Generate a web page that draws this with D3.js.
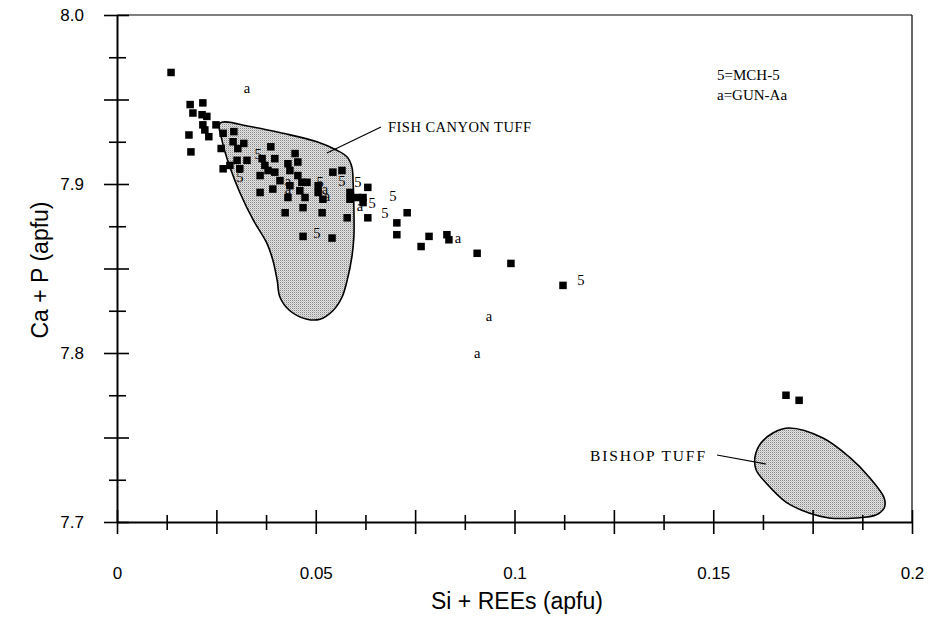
<!DOCTYPE html>
<html><head><meta charset="utf-8">
<script src="https://cdn.jsdelivr.net/npm/d3@7"></script>
<style>
html,body{margin:0;padding:0;background:#fff;}
svg{display:block;}
</style></head>
<body>
<svg id="chart" width="939" height="619"></svg>
<script>
// ---- data ----
const xTickLabels = [0, 0.05, 0.1, 0.15, 0.2];
const yTickLabels = [7.7, 7.8, 7.9, 8.0];
// analyses (squares): [Si+REEs, Ca+P]
const pointsX = [0.0136,0.0184,0.0216,0.0191,0.0214,0.0226,0.0216,0.0249,0.0221,0.0231,0.0181,0.0267,0.0294,0.0186,0.0262,0.0292,0.0304,0.0319,0.0387,0.0397,0.0365,0.0372,0.0380,0.0267,0.0284,0.0302,0.0327,0.0309,0.0360,0.0397,0.0360,0.0392,
  0.0448,0.0430,0.0455,0.0435,0.0543,0.0566,0.0455,0.0410,0.0435,0.0465,0.0478,0.0506,0.0460,0.0430,0.0473,0.0506,0.0518,0.0586,0.0586,0.0604,0.0619,0.0631,0.0619,0.0423,0.0468,0.0516,0.0579,0.0631,0.0468,0.0541,0.0704,0.0704,
  0.0730,0.0785,0.0765,0.0830,0.0835,0.0906,0.0991,0.1122,0.1683,0.1716];
const pointsY = [7.966,7.947,7.948,7.942,7.941,7.940,7.935,7.935,7.932,7.928,7.929,7.930,7.931,7.919,7.921,7.925,7.921,7.924,7.922,7.915,7.915,7.911,7.908,7.909,7.911,7.914,7.914,7.909,7.905,7.907,7.895,7.897,
  7.918,7.912,7.913,7.908,7.907,7.908,7.905,7.902,7.899,7.901,7.901,7.899,7.896,7.892,7.892,7.895,7.891,7.895,7.891,7.892,7.892,7.898,7.889,7.883,7.886,7.883,7.880,7.880,7.869,7.868,7.877,7.870,
  7.883,7.869,7.863,7.870,7.867,7.859,7.853,7.840,7.775,7.772];
// sample symbols "5" = MCH-5
const mchX = [0.0355,0.0309,0.0511,0.0566,0.0606,0.0642,0.0674,0.0694,0.0503,0.1167];
const mchY = [7.918,7.904,7.901,7.902,7.901,7.889,7.883,7.893,7.871,7.843];
// sample symbols "a" = GUN-Aa
const gunX = [0.0327,0.0430,0.0430,0.0523,0.0528,0.0611,0.0858,0.0936,0.0906];
const gunY = [7.956,7.901,7.896,7.896,7.892,7.886,7.867,7.821,7.799];
// fields
const fishX = [0.0259,0.0335,0.0418,0.0503,0.0553,0.0579,0.0591,0.0594,0.0596,0.0596,0.0591,0.0579,0.0566,0.0543,0.0511,0.0478,0.0435,0.0410,0.0403,0.0392,0.0377,0.0342,0.0309,0.0284,0.0264];
const fishY = [7.936,7.934,7.930,7.925,7.920,7.916,7.910,7.901,7.885,7.869,7.857,7.843,7.833,7.825,7.820,7.820,7.825,7.833,7.843,7.855,7.865,7.879,7.895,7.910,7.926];
const bishX = [0.1691,0.1776,0.1842,0.1892,0.1930,0.1930,0.1909,0.1859,0.1791,0.1741,0.1683,0.1633,0.1608,0.1605,0.1620,0.1650];
const bishY = [7.7556,7.7497,7.7385,7.7266,7.7142,7.7083,7.7041,7.7024,7.7024,7.7053,7.7118,7.7231,7.7308,7.7385,7.7467,7.7527];
const legendLines = ["5=MCH-5", "a=GUN-Aa"];
const xTitle = "Si + REEs (apfu)";
const yTitle = "Ca + P (apfu)";

// ---- layout ----
const svg = d3.select("#chart");
const L = 117, R = 912, T = 15, B = 522;
const x = d3.scaleLinear().domain([0, 0.2]).range([L, R]);
const y = d3.scaleLinear().domain([7.7, 8.0]).range([B, T]);

// pattern for shaded fields
const defs = svg.append("defs");
const pat = defs.append("pattern").attr("id","stip").attr("width",2).attr("height",2).attr("patternUnits","userSpaceOnUse");
pat.append("rect").attr("width",2).attr("height",2).attr("fill","#e2e2e2");
pat.append("rect").attr("width",1).attr("height",1).attr("fill","#8a8a8a");
pat.append("rect").attr("x",1).attr("y",1).attr("width",1).attr("height",1).attr("fill","#c4c4c4");

const line = d3.line().x(d => x(d[0])).y(d => y(d[1])).curve(d3.curveCatmullRomClosed.alpha(0.5));
const fish = fishX.map((v,i) => [v, fishY[i]]);
const bish = bishX.map((v,i) => [v, bishY[i]]);
svg.append("path").attr("d", line(fish)).attr("fill","url(#stip)").attr("stroke","#000").attr("stroke-width",1.6);
svg.append("path").attr("d", line(bish)).attr("fill","url(#stip)").attr("stroke","#000").attr("stroke-width",1.6);

// frame
svg.append("line").attr("x1",L).attr("x2",R).attr("y1",T).attr("y2",T).attr("stroke","#000").attr("stroke-width",1.2);
svg.append("line").attr("x1",R).attr("x2",R).attr("y1",T).attr("y2",B).attr("stroke","#000").attr("stroke-width",1.2);

// axes with crossing ticks
const xTicks = d3.range(0, 17).map(i => i * 0.0125);
const gx = svg.append("g").attr("transform", `translate(0,${B})`)
  .call(d3.axisBottom(x).tickValues(xTicks).tickFormat("").tickSizeOuter(0));
gx.selectAll(".tick line").attr("y1", (d,i) => i % 2 === 0 ? -12 : -7).attr("y2", (d,i) => i % 2 === 0 ? 12 : 8).attr("stroke-width",1.6);
gx.select(".domain").attr("stroke-width",2);

const yTicks = d3.range(0, 13).map(i => 7.7 + i * 0.025);
const gy = svg.append("g").attr("transform", `translate(${L},0)`)
  .call(d3.axisLeft(y).tickValues(yTicks).tickFormat("").tickSizeOuter(0));
gy.selectAll(".tick line").attr("x1", (d,i) => i % 2 === 0 ? -13 : -8).attr("x2", (d,i) => i % 2 === 0 ? 12 : 9).attr("stroke-width",1.6);
gy.select(".domain").attr("stroke-width",2);

// tick labels
const gxl = svg.append("g").attr("transform", `translate(0,${B})`)
  .call(d3.axisBottom(x).tickValues(xTickLabels).tickFormat(d => String(d)).tickSize(0).tickPadding(45));
gxl.select(".domain").remove();
gxl.selectAll("text").attr("font-family","Liberation Sans, Arial, sans-serif").attr("font-size",17).attr("fill","#000");

const gyl = svg.append("g").attr("transform", `translate(${L},0)`)
  .call(d3.axisLeft(y).tickValues(yTickLabels).tickFormat(d3.format(".1f")).tickSize(0).tickPadding(33));
gyl.select(".domain").remove();
gyl.selectAll("text").attr("font-family","Liberation Sans, Arial, sans-serif").attr("font-size",17).attr("fill","#000");

// axis titles
svg.append("text").attr("x", 517).attr("y", 609).attr("text-anchor","middle")
  .attr("font-family","Liberation Sans, Arial, sans-serif").attr("font-size",23).text(xTitle);
svg.append("text").attr("transform","translate(48,270) rotate(-90)").attr("text-anchor","middle")
  .attr("font-family","Liberation Sans, Arial, sans-serif").attr("font-size",23).text(yTitle);

// points
const s = 7.5;
svg.append("g").selectAll("rect").data(pointsX.map((v,i)=>[v,pointsY[i]])).join("rect")
  .attr("x", d => x(d[0]) - s/2).attr("y", d => y(d[1]) - s/2).attr("width", s).attr("height", s).attr("fill","#000");

const serif = "Liberation Serif, Times New Roman, serif";
svg.append("g").selectAll("text").data(mchX.map((v,i)=>[v,mchY[i]])).join("text")
  .attr("x", d => x(d[0])).attr("y", d => y(d[1]) + 5).attr("text-anchor","middle")
  .attr("font-family", serif).attr("font-size",14.5).text("5");
svg.append("g").selectAll("text").data(gunX.map((v,i)=>[v,gunY[i]])).join("text")
  .attr("x", d => x(d[0])).attr("y", d => y(d[1]) + 3.5).attr("text-anchor","middle")
  .attr("font-family", serif).attr("font-size",14.5).text("a");

// field labels and leaders
svg.append("text").attr("x", 388).attr("y", 132).attr("font-family", serif).attr("font-size",14.5)
  .attr("textLength",143).attr("lengthAdjust","spacing").text("FISH CANYON TUFF");
svg.append("line").attr("x1", 327).attr("y1", 153).attr("x2", 381).attr("y2", 127).attr("stroke","#000").attr("stroke-width",1.2);
svg.append("text").attr("x", 590).attr("y", 461).attr("font-family", serif).attr("font-size",15.5)
  .attr("textLength",115).attr("lengthAdjust","spacing").text("BISHOP TUFF");
svg.append("line").attr("x1", 717).attr("y1", 455).attr("x2", 766).attr("y2", 464).attr("stroke","#000").attr("stroke-width",1.2);

// legend
svg.append("g").selectAll("text").data(legendLines).join("text")
  .attr("x", 717).attr("y", (d,i) => 80 + i * 20).attr("font-family", serif).attr("font-size",15).text(d => d);
</script>
</body></html>
